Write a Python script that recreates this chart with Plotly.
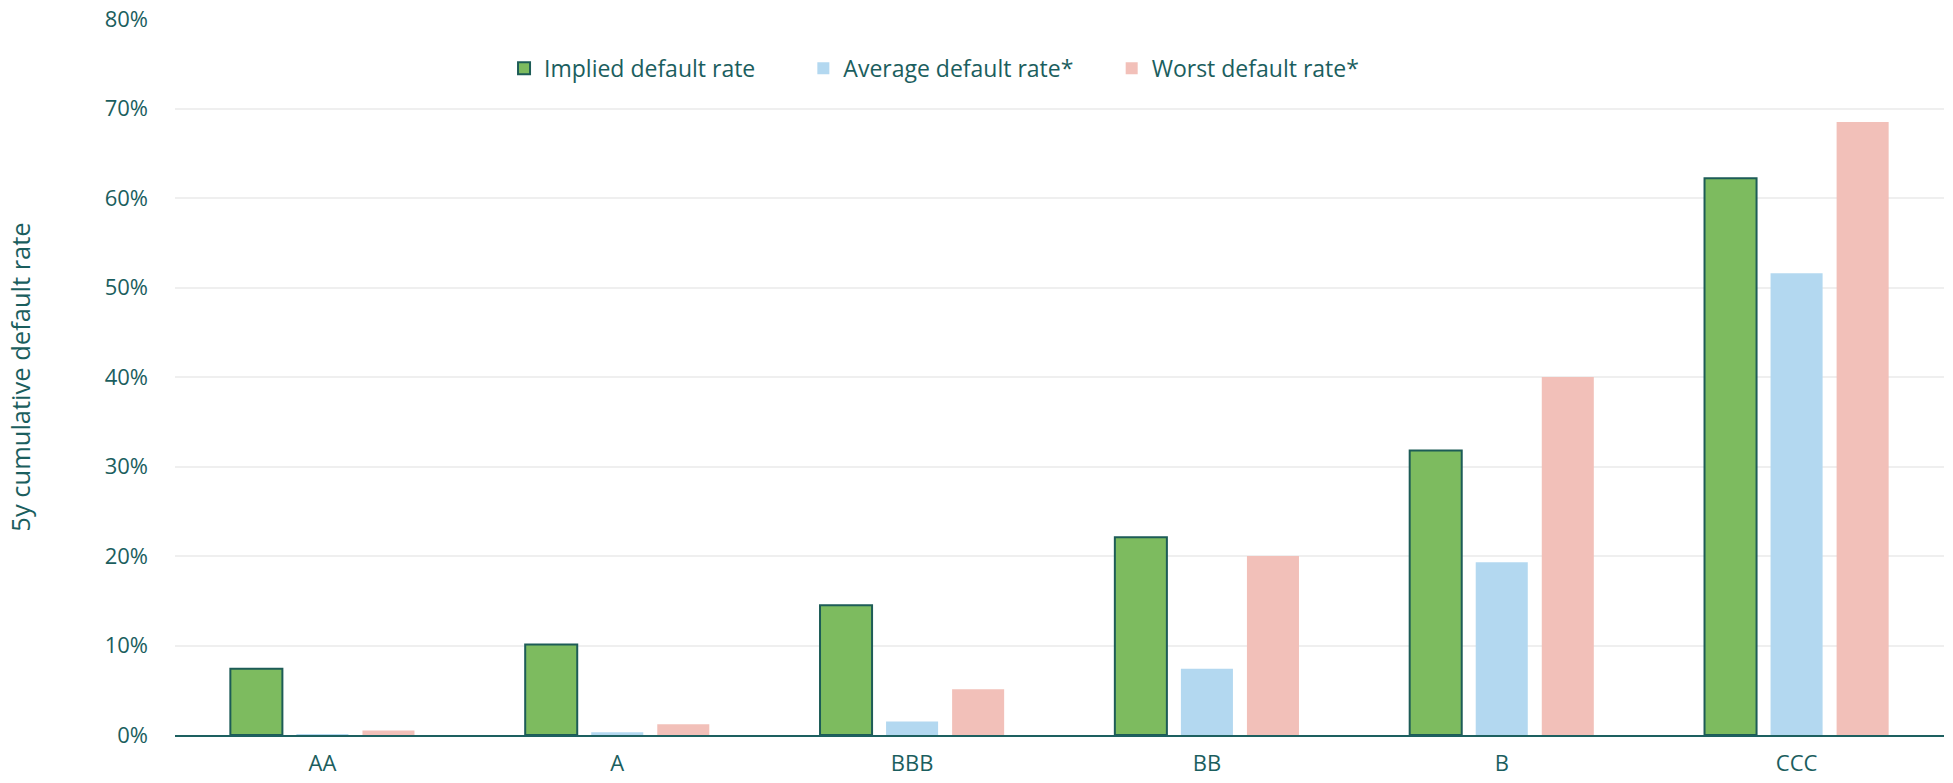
import plotly.graph_objects as go

categories = ["AA", "A", "BBB", "BB", "B", "CCC"]
implied = [0.074, 0.101, 0.145, 0.221, 0.318, 0.622]
average = [0.0005, 0.003, 0.015, 0.074, 0.193, 0.516]
worst = [0.005, 0.012, 0.051, 0.200, 0.400, 0.685]
series_names = ["Implied default rate", "Average default rate*", "Worst default rate*"]
y_ticks = [0, 0.1, 0.2, 0.3, 0.4, 0.5, 0.6, 0.7, 0.8]

TEAL = "#1b5e5e"
FONT = "Open Sans"

fig = go.Figure()
fig.add_trace(go.Bar(x=categories, y=implied, name=series_names[0], showlegend=True,
                     marker=dict(color="#7dbb5f", line=dict(color="#1d5c57", width=2)),
                     legend="legend"))
fig.add_trace(go.Bar(x=categories, y=average, name=series_names[1], showlegend=True,
                     marker=dict(color="#b3d8f0", line=dict(width=0)),
                     legend="legend2"))
fig.add_trace(go.Bar(x=categories, y=worst, name=series_names[2], showlegend=True,
                     marker=dict(color="#f2c0b9", line=dict(width=0)),
                     legend="legend3"))

leg_common = dict(orientation="h", yanchor="middle", y=0.931, xanchor="left",
                  font=dict(family=FONT, size=23, color=TEAL),
                  bgcolor="rgba(0,0,0,0)", borderwidth=0, visible=True)

fig.update_layout(
    width=1953, height=783,
    margin=dict(l=175, r=9, t=19, b=48, autoexpand=False),
    paper_bgcolor="white", plot_bgcolor="white",
    showlegend=True,
    barmode="group", bargap=0.328, bargroupgap=0.212,
    font=dict(family=FONT, size=22, color=TEAL),
    legend=dict(x=0.186, **leg_common),
    legend2=dict(x=0.3552, **leg_common),
    legend3=dict(x=0.5295, **leg_common),
    xaxis=dict(showline=True, linecolor="#1d6060", linewidth=2, automargin=False,
               showgrid=False, ticks="", ticklabelstandoff=8,
               tickfont=dict(family=FONT, size=22, color=TEAL)),
    yaxis=dict(range=[0, 0.8], tickvals=y_ticks, tickformat=".0%", automargin=False,
               showgrid=True, gridcolor="#efefef", gridwidth=1.5,
               zeroline=False, showline=False, ticks="",
               ticklabelstandoff=26,
               tickfont=dict(family=FONT, size=22, color=TEAL),
               title=dict(text="5y cumulative default rate", standoff=66,
                          font=dict(family=FONT, size=25.5, color=TEAL))),
)

fig.write_html("out.html")
